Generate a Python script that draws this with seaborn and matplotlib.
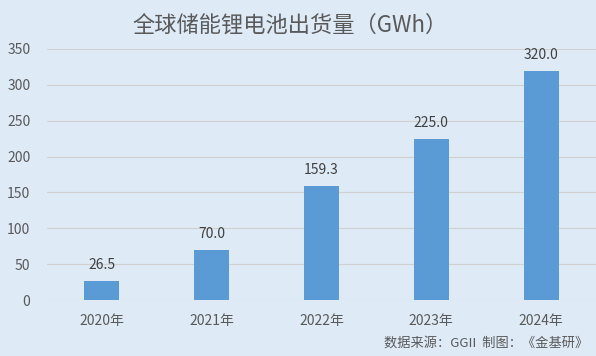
import matplotlib.pyplot as plt
import seaborn as sns
import pandas as pd

# 数据
years = ['2020年', '2021年', '2022年', '2023年', '2024年']
shipments = [26.5, 70.0, 159.3, 225.0, 320.0]
yticks = [0, 50, 100, 150, 200, 250, 300, 350]

bg = '#DEEAF6'
bar_color = '#5B9BD5'
text_color = '#595959'

sns.set_theme(style='white')
plt.rcParams['font.family'] = ['Noto Sans CJK SC', 'DejaVu Sans']

df = pd.DataFrame({'year': years, 'gwh': shipments})

fig = plt.figure(figsize=(5.96, 3.56), dpi=100, facecolor=bg)
ax = fig.add_axes([47 / 596, 1 - 300 / 356, (596 - 47) / 596, 251 / 356])
ax.set_facecolor(bg)

sns.barplot(data=df, x='year', y='gwh', color=bar_color, width=0.32,
            saturation=1, linewidth=0, ax=ax, zorder=3)

for i, v in enumerate(shipments):
    ax.text(i, v + 22, f'{v:.1f}', ha='center', va='center', fontsize=10,
            color='#404040')

ax.set_ylim(0, 350)
ax.set_yticks(yticks)
ax.set_xlim(-0.5, 4.5)
ax.grid(axis='y', color='#D0D0D0', linewidth=0.8, zorder=0)
for s in ax.spines.values():
    s.set_visible(False)
ax.tick_params(axis='both', length=0, labelsize=10, colors=text_color)
ax.tick_params(axis='y', pad=12)
ax.tick_params(axis='x', pad=10)
ax.set_xlabel('')
ax.set_ylabel('')

fig.text(290 / 596, 1 - 25 / 356, '全球储能锂电池出货量（GWh）', ha='center',
         va='center', fontsize=16, color=text_color)
fig.text(588 / 596, 1 - 343 / 356, '数据来源：GGII  制图：《金基研》', ha='right',
         va='center', fontsize=9.5, color=text_color)

fig.savefig('out.png', dpi=100, facecolor=bg)
